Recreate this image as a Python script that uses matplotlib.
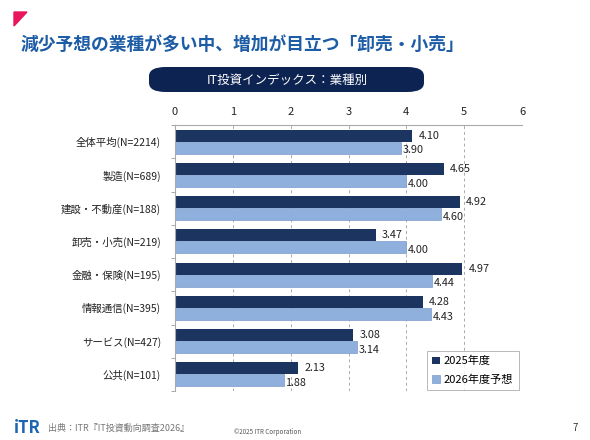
import numpy as np
import matplotlib.pyplot as plt
from matplotlib.patches import FancyBboxPatch, Polygon

plt.rcParams['font.family'] = ['Noto Sans CJK JP', 'DejaVu Sans']

# data
categories = ['全体平均(N=2214)', '製造(N=689)', '建設・不動産(N=188)', '卸売・小売(N=219)',
              '金融・保険(N=195)', '情報通信(N=395)', 'サービス(N=427)', '公共(N=101)']
values_2025 = [4.10, 4.65, 4.92, 3.47, 4.97, 4.28, 3.08, 2.13]
values_2026 = [3.90, 4.00, 4.60, 4.00, 4.44, 4.43, 3.14, 1.88]
series_names = ['2025年度', '2026年度予想']

dark = '#1b3560'
light = '#8fb0dc'

fig = plt.figure(figsize=(5.9, 4.4), dpi=100)
fig.patch.set_facecolor('white')

# pink corner mark
fig.patches.append(Polygon([[14/590, 1-12/440], [27/590, 1-12/440], [14/590, 1-26/440]],
                           closed=True, transform=fig.transFigure, color='#e8175d'))

fig.text(20/590, 1-45/440, '減少予想の業種が多い中、増加が目立つ「卸売・小売」',
         fontsize=12.8, fontweight='bold', color='#1d5ca6', va='center', ha='left')

# pill header
pill = FancyBboxPatch((149/590, 1-92/440), 275/590, 25/440,
                      boxstyle='round,pad=0,rounding_size=0.028', transform=fig.transFigure,
                      facecolor='#0d2352', edgecolor='none', mutation_aspect=440/590)
fig.patches.append(pill)
fig.text(287/590, 1-80/440, 'IT投資インデックス：業種別', fontsize=9, color='white',
         ha='center', va='center')

ax = fig.add_axes([175/590, 1-391/440, 347/590, 266/440])
y = np.arange(len(categories))
h = 0.36
b1 = ax.barh(y - h/2, values_2025, height=h, color=dark, label=series_names[0])
b2 = ax.barh(y + h/2, values_2026, height=h, color=light, edgecolor='#7a9ccb', linewidth=0.5,
             label=series_names[1])

for rect, v in zip(b1, values_2025):
    ax.text(v + 0.11, rect.get_y() + rect.get_height()/2, f'{v:.2f}', va='center', ha='left',
            fontsize=7.8, color='#222222')
for rect, v in zip(b2, values_2026):
    ax.text(v + 0.03, rect.get_y() + rect.get_height()/2 + 0.08, f'{v:.2f}', va='center', ha='left',
            fontsize=7.8, color='#222222')

ax.set_xlim(0, 6)
ax.set_ylim(len(categories) - 0.5, -0.5)
ax.xaxis.tick_top()
ax.set_xticks(range(7))
ax.tick_params(axis='x', length=0, labelsize=8, pad=6, colors='#222222')
ax.set_yticks(y)
ax.set_yticklabels(categories, fontsize=7.5)
ax.tick_params(axis='y', length=0, pad=10, colors='#222222')
ax.set_yticks(np.arange(-0.5, len(categories)), minor=True)
ax.tick_params(axis='y', which='minor', length=3, color='#999999', direction='out')
ax.grid(axis='x', linestyle=(0, (3, 3)), color='#aaaaaa', linewidth=0.7)
ax.set_axisbelow(True)
for side in ['left', 'top']:
    ax.spines[side].set_color('#aaaaaa')
ax.spines['right'].set_visible(False)
ax.spines['bottom'].set_visible(False)

leg = ax.legend(loc='lower right', fontsize=8, frameon=True, fancybox=False, handlelength=0.7,
                handleheight=0.7, handletextpad=0.3, borderpad=0.5, labelspacing=0.7,
                borderaxespad=0.0, bbox_to_anchor=(0.99, 0.003))
leg.get_frame().set_edgecolor('#999999')
leg.get_frame().set_linewidth(0.6)

# footer
fig.text(14/590, 1-428/440, 'iTR', fontsize=12, fontweight='bold', color='#1a66b3',
         ha='left', va='center')
fig.text(48/590, 1-428/440, '出典：ITR『IT投資動向調査2026』', fontsize=6.5, color='#777777',
         ha='left', va='center')
fig.text(268/590, 1-432/440, '©2025 ITR Corporation', fontsize=4.5, color='#555555',
         ha='center', va='center')
fig.text(575/590, 1-428/440, '7', fontsize=7, color='#333333', ha='center', va='center')

fig.savefig('out.png', dpi=100)
